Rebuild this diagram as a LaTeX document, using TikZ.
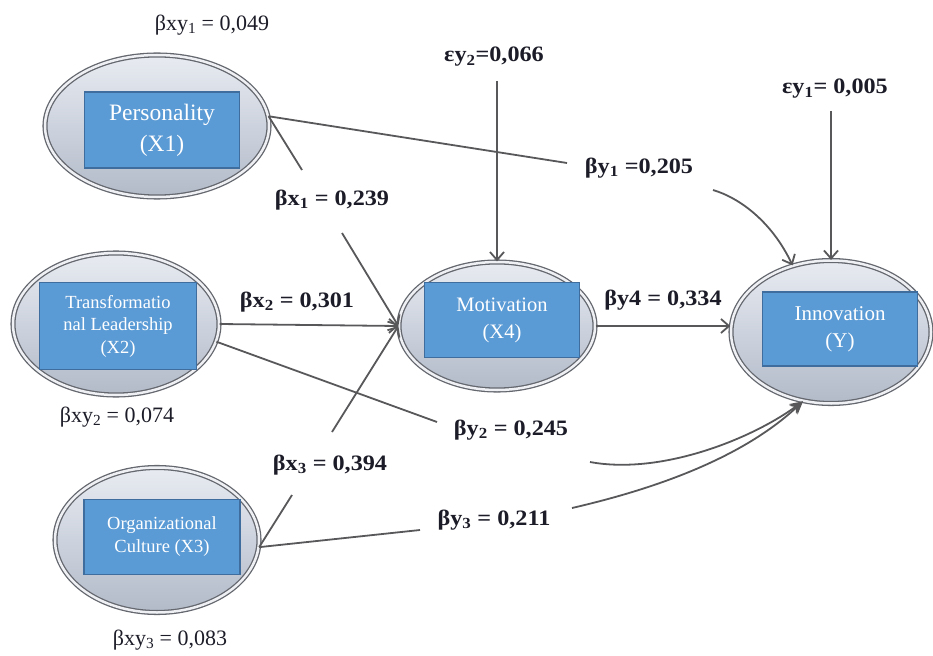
\documentclass[tikz,border=0pt]{standalone}
\usepackage{fontspec}
\setmainfont{Liberation Serif}
\newfontfamily\coeffont{Liberation Serif}[FakeStretch=1.1]
\usepackage{tikz}
\usetikzlibrary{shapes.geometric,arrows.meta}

\definecolor{ellline}{HTML}{64676E}
\definecolor{ellring}{HTML}{EEF0F4}
\definecolor{ellhi}{HTML}{E8EBF1}
\definecolor{ellmid}{HTML}{CDD3DE}
\definecolor{elllo}{HTML}{B2BAC8}
\definecolor{boxblue}{HTML}{5B9BD5}
\definecolor{boxline}{HTML}{3F6E9E}
\definecolor{linegray}{HTML}{58585A}
\definecolor{txtdark}{HTML}{1C1C28}

\tikzset{
  latent/.style={ellipse, draw=ellline, line width=1.3pt, double=ellring, double distance=2.5pt,
    top color=ellhi, bottom color=elllo, middle color=ellmid},
  varbox/.style={rectangle, fill=boxblue, draw=boxline, line width=1.5pt, text=white,
    align=center, inner sep=0pt},
  coef/.style={font=\coeffont\fontsize{22}{24}\selectfont\bfseries, text=txtdark, inner sep=2pt},
  resid/.style={font=\fontsize{22}{24}\selectfont, text=txtdark, inner sep=2pt},
  conn/.style={draw=linegray, line width=1.8pt},
  barb/.style={conn, -{Straight Barb[length=8pt,width=14pt]}},
  stealthy/.style={conn, -{Stealth[length=13pt,width=12pt]}}
}

\begin{document}
\begin{tikzpicture}[x=1pt,y=-1pt]
  \useasboundingbox (0,0) rectangle (933,655);

  % latent variables
  \node[latent, minimum width=224pt, minimum height=142pt] (pers) at (157,126) {};
  \node[latent, minimum width=206pt, minimum height=142pt] (trans) at (116,324) {};
  \node[latent, minimum width=204pt, minimum height=145pt] (org) at (157,540) {};
  \node[latent, minimum width=196pt, minimum height=128pt] (motiv) at (497,326) {};
  \node[latent, minimum width=200pt, minimum height=143pt] (innov) at (831,332) {};

  \node[varbox, minimum width=155pt, minimum height=76pt, font=\fontsize{23.5}{31}\selectfont]
    (persbox) at (162,130) {Personality\\(X1)};
  \node[varbox, minimum width=157pt, minimum height=87pt, font=\fontsize{18.5}{22.5}\selectfont]
    (transbox) at (118,326) {Transformatio\\nal Leadership\\(X2)};
  \node[varbox, minimum width=156pt, minimum height=75pt, font=\fontsize{18.5}{23}\selectfont]
    (orgbox) at (162,537) {Organizational\\Culture (X3)};
  \node[varbox, minimum width=155pt, minimum height=75pt, font=\fontsize{20.5}{27}\selectfont]
    (motivbox) at (502,320) {Motivation\\(X4)};
  \node[varbox, minimum width=155pt, minimum height=74pt, font=\fontsize{21}{27}\selectfont]
    (innovbox) at (840,329) {Innovation\\(Y)};

  % coefficients
  \node[resid] (bxy1) at (212,25) {βxy\textsubscript{1} = 0,049};
  \node[resid] (bxy2) at (117,417) {βxy\textsubscript{2} = 0,074};
  \node[resid] (bxy3) at (170,640) {βxy\textsubscript{3} = 0,083};
  \node[coef] (eps2) at (494,57) {εy\textsubscript{2}=0,066};
  \node[coef] (eps1) at (835,89) {εy\textsubscript{1}= 0,005};
  \node[coef] (by1) at (639,168) {βy\textsubscript{1} =0,205};
  \node[coef] (bx1) at (332,200) {βx\textsubscript{1} = 0,239};
  \node[coef] (bx2) at (297,302) {βx\textsubscript{2} = 0,301};
  \node[coef] (by4) at (663,300) {βy4 = 0,334};
  \node[coef] (by2) at (511,430) {βy\textsubscript{2} = 0,245};
  \node[coef] (bx3) at (330,465) {βx\textsubscript{3} = 0,394};
  \node[coef] (by3) at (494,520) {βy\textsubscript{3} = 0,211};

  % where the paths break for the labels
  \coordinate (x1a) at (302,170);
  \coordinate (x1b) at (342,233);
  \coordinate (x3a) at (292,495);
  \coordinate (x3b) at (332,432);
  \coordinate (y1a) at (567,163);
  \coordinate (y1b) at (713,190);
  \coordinate (y2a) at (437,422);
  \coordinate (y2b) at (590,462);
  \coordinate (y3a) at (420,530);
  \coordinate (y3b) at (572,508);

  % paths
  \draw[conn] (pers.5) -- (x1a);
  \draw[barb] (x1b) -- (motiv.west);
  \draw[barb] (trans.east) -- (motiv.west);
  \draw[conn] (org.-4) -- (x3a);
  \draw[barb] (x3b) -- (motiv.west);
  \draw[barb, shorten <=12pt] (eps2.south -| motiv.north) -- (motiv.north);
  \draw[barb] (motiv.east) -- (motiv.east -| innov.west);
  \draw[barb, shorten <=10pt] (eps1.south -| innov.north) -- (innov.north);
  \draw[conn] (pers.5) -- (y1a);
  \draw[barb] (y1b) .. controls (740,198) and (772,222) .. (innov.120);
  \draw[conn] (trans.-10) -- (y2a);
  \draw[stealthy] (y2b) .. controls (660,475) and (750,440) .. (innov.-112);
  \draw[conn] (org.-4) -- (y3a);
  \draw[stealthy] (y3b) .. controls (650,490) and (740,460) .. (innov.-112);
\end{tikzpicture}
\end{document}
